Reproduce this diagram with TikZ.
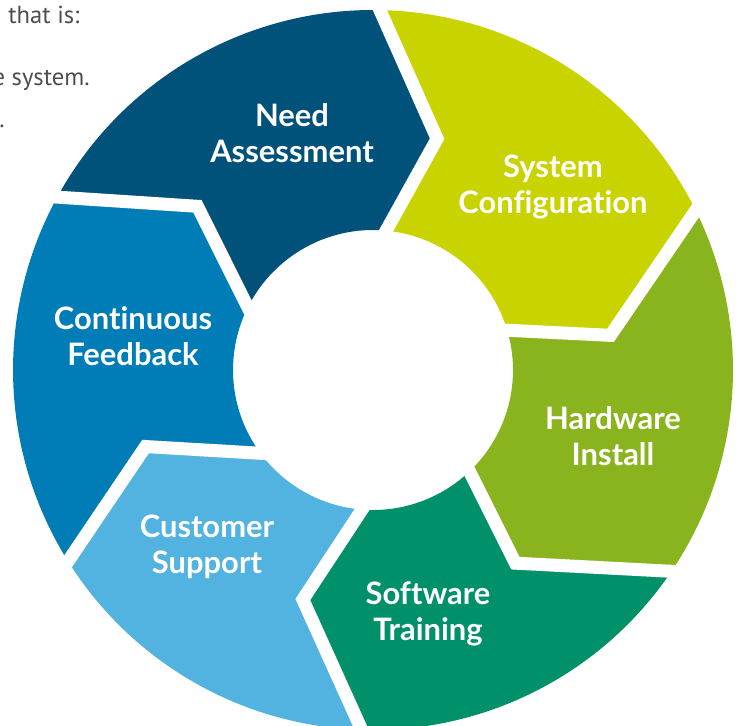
\documentclass[tikz,border=0pt]{standalone}
\usepackage{fontspec}
\setmainfont{Lato}[Ligatures=NoCommon]
\newfontfamily\notefont{PT Sans}
\usetikzlibrary{calc}

\definecolor{needblue}{HTML}{00527A}
\definecolor{configyellow}{HTML}{C8D300}
\definecolor{hwgreen}{HTML}{8AB41D}
\definecolor{swgreen}{HTML}{00916A}
\definecolor{supportblue}{HTML}{52B2E0}
\definecolor{feedbackblue}{HTML}{007DB6}
\definecolor{notegray}{HTML}{4D4D4F}

\begin{document}
\begin{tikzpicture}[x=0.02cm, y=0.02cm,
  stage/.style={text=white, align=center, inner sep=0pt,
    font=\fontsize{17.6}{20.6}\selectfont\bfseries},
  gap/.style={draw=white, line width=0.26cm, line join=miter},
  note/.style={text=notegray, anchor=base east, inner sep=0pt,
    font=\notefont\fontsize{14}{17}\selectfont}]

\useasboundingbox (-373,-356) rectangle (367,370);

% ---------- boundary points: outer, tip, inner ----------
\coordinate (o1) at (88.9:360);  \coordinate (t1) at (74.5:240);  \coordinate (i1) at (84.6:140);
\coordinate (o2) at (26.3:360);  \coordinate (t2) at (8.3:240);   \coordinate (i2) at (16.5:140);
\coordinate (o3) at (-34:360);   \coordinate (t3) at (-53.6:240); \coordinate (i3) at (-46.4:140);
\coordinate (o4) at (-91.8:360); \coordinate (t4) at (-107:240);  \coordinate (i4) at (-94.5:140);
\coordinate (o5) at (-147.9:360);\coordinate (t5) at (-161.4:240);\coordinate (i5) at (-143.5:140);
\coordinate (o6) at (151.3:360); \coordinate (t6) at (137:240);   \coordinate (i6) at (153.4:140);

% ---------- segments ----------
\fill[needblue] (o6) arc[start angle=151.3, end angle=88.9, radius=360]
  -- (t1) -- (i1) arc[start angle=84.6, end angle=153.4, radius=140] -- (t6) -- cycle;
\fill[configyellow] (o1) arc[start angle=88.9, end angle=26.3, radius=360]
  -- (t2) -- (i2) arc[start angle=16.5, end angle=84.6, radius=140] -- (t1) -- cycle;
\fill[hwgreen] (o2) arc[start angle=26.3, end angle=-34, radius=360]
  -- (t3) -- (i3) arc[start angle=-46.4, end angle=16.5, radius=140] -- (t2) -- cycle;
\fill[swgreen] (o3) arc[start angle=-34, end angle=-91.8, radius=360]
  -- (t4) -- (i4) arc[start angle=-94.5, end angle=-46.4, radius=140] -- (t3) -- cycle;
\fill[supportblue] (o4) arc[start angle=-91.8, end angle=-147.9, radius=360]
  -- (t5) -- (i5) arc[start angle=-143.5, end angle=-94.5, radius=140] -- (t4) -- cycle;
\fill[feedbackblue] (o5) arc[start angle=-147.9, end angle=-208.7, radius=360]
  -- (t6) -- (i6) arc[start angle=-206.6, end angle=-143.5, radius=140] -- (t5) -- cycle;

% white gaps between stages
\foreach \k in {1,...,6}
  \draw[gap] ($(t\k)!1.1!(o\k)$) -- (t\k) -- ($(t\k)!1.2!(i\k)$);

% ---------- labels ----------
\node[stage] (need)     at (-81,237)  {Need\\Assessment};
\node[stage] (config)   at (180,183)  {System\\Configuration};
\node[stage] (hardware) at (240,-66)  {Hardware\\Install};
\node[stage] (software) at (55,-244)  {Software\\Training};
\node[stage] (support)  at (-166,-177) {Customer\\Support};
\node[stage] (feedback) at (-240,34)  {Continuous\\Feedback};

% cut-off text on the left
\node[note] (line1) at (-293,346) {that is:};
\node[note] (line2) at (-283,284) {e system.};
\node[note] (line3) at (-368,242) {.};

\end{tikzpicture}
\end{document}
